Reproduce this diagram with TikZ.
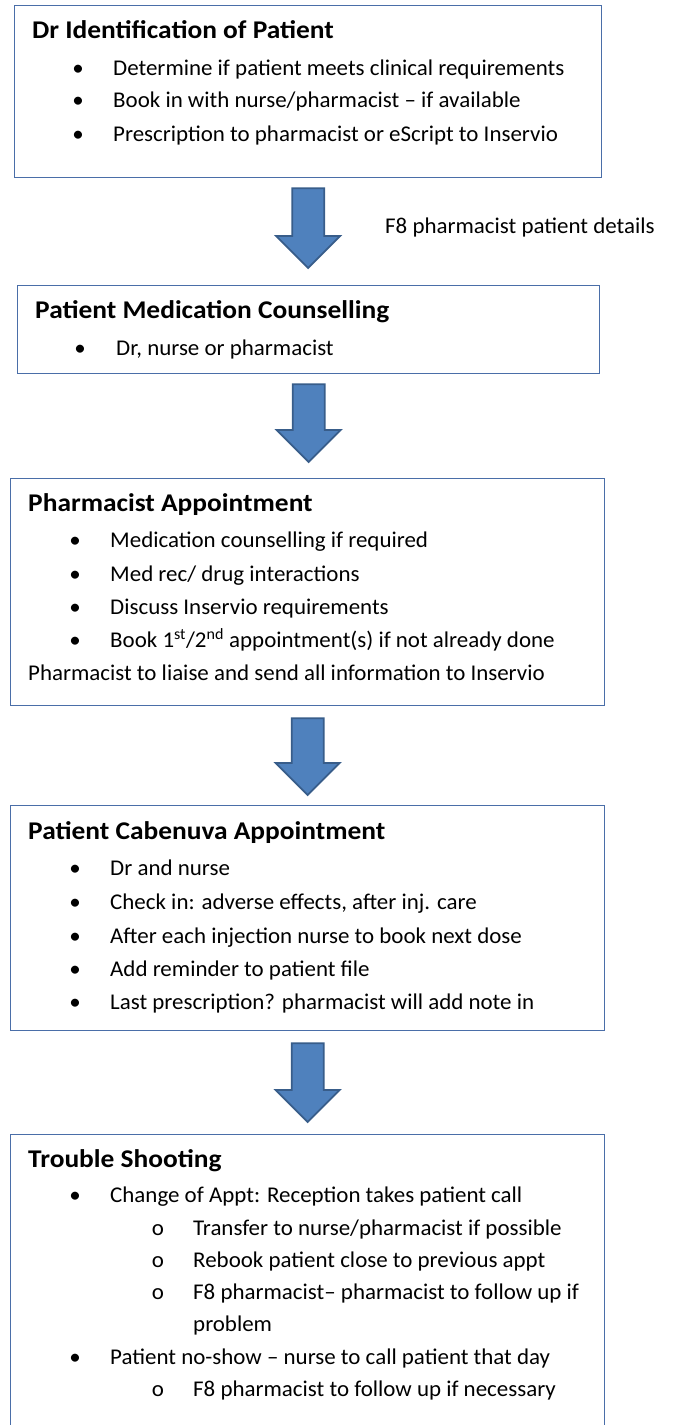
\documentclass[tikz,border=0pt]{standalone}
\usepackage{fontspec}
\setmainfont{Carlito}[FakeStretch=1.02]
\newfontfamily\titlefont{Carlito}[FakeStretch=1.075]
\usepackage{tikz}
\usetikzlibrary{calc}
\definecolor{boxblue}{RGB}{74,110,168}
\definecolor{arrowfill}{RGB}{79,129,189}
\definecolor{arrowline}{RGB}{56,93,138}

\tikzset{
  flowbox/.style={draw=boxblue, line width=1.3pt, anchor=north west, inner sep=0pt},
  boxtitle/.style={anchor=base west, inner sep=0pt, font=\titlefont\fontsize{25.5}{30}\selectfont\bfseries},
  itemtext/.style={anchor=base west, inner sep=0pt, font=\fontsize{22.5}{27}\selectfont},
  itemdot/.style={anchor=base, inner sep=0pt, font=\fontsize{22.5}{27}\selectfont},
  blockarrow/.style={fill=arrowfill, draw=arrowline, line width=1.8pt, line join=miter},
}

% down arrow from top point #1 to tip #2
\newcommand{\flowarrow}[2]{%
  \draw[blockarrow] let \p1=(#1), \p2=(#2) in
    (\x1-16pt,\y1) -- (\x1+16pt,\y1) -- (\x1+16pt,\y2+32pt) -- (\x1+32pt,\y2+32pt)
    -- (\x1,\y2) -- (\x1-32pt,\y2+32pt) -- (\x1-16pt,\y2+32pt) -- cycle;}

\begin{document}
\begin{tikzpicture}[x=1pt,y=-1pt]
\useasboundingbox (0,0) rectangle (674,1425);

% boxes
\node[flowbox, minimum width=587pt, minimum height=172pt] (b1) at (14,5) {};
\node[flowbox, minimum width=582pt, minimum height=88pt] (b2) at (17,285) {};
\node[flowbox, minimum width=594pt, minimum height=227pt] (b3) at (10,478) {};
\node[flowbox, minimum width=594pt, minimum height=225pt] (b4) at (10,805) {};
\node[flowbox, minimum width=594pt, minimum height=310pt] (b5) at (10,1134) {};

% arrows
\coordinate (a1top) at ($(b1.south)+(0,10)$);
\coordinate (a1tip) at ($(b2.north)+(0,-17)$);
\coordinate (a2top) at ($(b2.south)+(0,10)$);
\coordinate (a2tip) at ($(b3.north)+(0,-16)$);
\coordinate (a3top) at ($(b3.south)+(0,12)$);
\coordinate (a3tip) at ($(b4.north)+(0,-10)$);
\coordinate (a4top) at ($(b4.south)+(0,12)$);
\coordinate (a4tip) at ($(b5.north)+(0,-12)$);
\flowarrow{a1top}{a1tip}
\flowarrow{a2top}{a2tip}
\flowarrow{a3top}{a3tip}
\flowarrow{a4top}{a4tip}
\node[itemtext] (lbl) at (385,233) {F8 pharmacist patient details};

% box 1
\node[boxtitle] (t1) at (32,38) {Dr Identification of Patient};
\foreach \y/\txt [count=\i] in {75/{Determine if patient meets clinical requirements},
  107/{Book in with nurse/pharmacist – if available},
  141/{Prescription to pharmacist or eScript to Inservio}} {
  \node[itemdot] (d1\i) at (78,\y) {\textbullet};
  \node[itemtext] (i1\i) at (113,\y) {\txt};
}

% box 2
\node[boxtitle] (t2) at (35,318) {Patient Medication Counselling};
\node[itemdot] (d21) at (80,355) {\textbullet};
\node[itemtext] (i21) at (116,355) {Dr, nurse or pharmacist};

% box 3
\node[boxtitle] (t3) at (28,511) {Pharmacist Appointment};
\foreach \y/\txt [count=\i] in {547/{Medication counselling if required},
  581/{Med rec/ drug interactions},
  614/{Discuss Inservio requirements},
  647/{Book 1\textsuperscript{st}/2\textsuperscript{nd} appointment(s) if not already done}} {
  \node[itemdot] (d3\i) at (75,\y) {\textbullet};
  \node[itemtext] (i3\i) at (110,\y) {\txt};
}
\node[itemtext] (n3) at (28,680) {Pharmacist to liaise and send all information to Inservio};

% box 4
\node[boxtitle] (t4) at (28,839) {Patient Cabenuva Appointment};
\foreach \y/\txt [count=\i] in {875/{Dr and nurse},
  909/{Check in: adverse effects, after inj. care},
  943/{After each injection nurse to book next dose},
  976/{Add reminder to patient file},
  1009/{Last prescription? pharmacist will add note in}} {
  \node[itemdot] (d4\i) at (75,\y) {\textbullet};
  \node[itemtext] (i4\i) at (110,\y) {\txt};
}

% box 5
\node[boxtitle] (t5) at (28,1167) {Trouble Shooting};
\node[itemdot] (d51) at (75,1202) {\textbullet};
\node[itemtext] (i51) at (110,1202) {Change of Appt: Reception takes patient call};
\foreach \y/\txt [count=\i] in {1235/{Transfer to nurse/pharmacist if possible},
  1267/{Rebook patient close to previous appt},
  1299/{F8 pharmacist– pharmacist to follow up if}} {
  \node[itemdot] (o5\i) at (158,\y) {o};
  \node[itemtext] (s5\i) at (193,\y) {\txt};
}
\node[itemtext] (s5c) at (193,1331) {problem};
\node[itemdot] (d52) at (75,1364) {\textbullet};
\node[itemtext] (i52) at (110,1364) {Patient no-show – nurse to call patient that day};
\node[itemdot] (o54) at (158,1396) {o};
\node[itemtext] (s54) at (193,1396) {F8 pharmacist to follow up if necessary};
\end{tikzpicture}
\end{document}
